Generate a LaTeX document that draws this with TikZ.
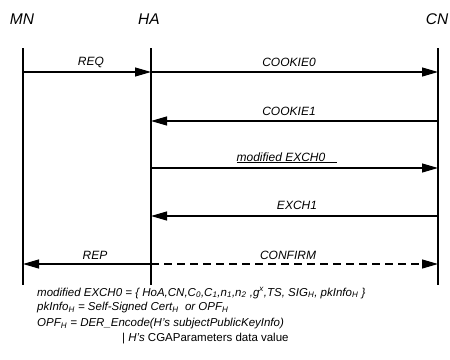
\documentclass[tikz,border=0pt]{standalone}
\usepackage{fontspec}
\setmainfont{Liberation Sans}
\usetikzlibrary{arrows.meta}
\begin{document}
\begin{tikzpicture}[x=1pt,y=-1pt,
  hdr/.style={font=\fontsize{15.5}{17}\selectfont\itshape, inner sep=0pt},
  lbl/.style={font=\fontsize{12}{14}\selectfont\itshape, inner sep=0pt},
  life/.style={line width=1.6pt},
  msg/.style={line width=1.1pt, -{Triangle[length=16pt,width=9pt]}},
  note/.style={font=\fontsize{11.5}{14}\selectfont\itshape, inner sep=0pt, anchor=west}]
\useasboundingbox (0,0) rectangle (450,359);
% headers
\node[hdr] (mn) at (22,19) {MN};
\node[hdr] (ha) at (149,19) {HA};
\node[hdr] (cn) at (437,19) {CN};
% lifelines
\coordinate (mnT) at (23,48); \coordinate (mnB) at (23,285);
\coordinate (haT) at (151,48); \coordinate (haB) at (151,285);
\coordinate (cnT) at (438,48); \coordinate (cnB) at (438,285);
\draw[life] (mnT) -- (mnB);
\draw[life] (haT) -- (haB);
\draw[life] (cnT) -- (cnB);
% message anchor points
\foreach \n/\y in {1/72,2/121,3/168,4/216,5/264}{
  \coordinate (mn\n) at (23,\y);
  \coordinate (ha\n) at (151,\y);
  \coordinate (cn\n) at (438,\y);
}
% messages
\draw[msg] (mn1) -- (ha1);
\draw[msg] (ha1) -- (cn1);
\draw[msg] (cn2) -- (ha2);
\draw[msg] (ha3) -- (cn3);
\draw[msg] (cn4) -- (ha4);
\draw[msg] (ha5) -- (mn5);
\draw[msg, dashed, dash pattern=on 8pt off 5pt] (ha5) -- (cn5);
% labels
\node[lbl] (req) at (91,62) {REQ};
\node[lbl] (c0) at (289,62) {COOKIE0};
\node[lbl] (c1) at (289,111) {COOKIE1};
\node[lbl] (ex0) at (281,157) {modified EXCH0};
\coordinate (ul1) at (237,162); \coordinate (ul2) at (337,162);
\draw[line width=0.8pt] (ul1) -- (ul2);
\node[lbl] (ex1) at (297,205) {EXCH1};
\node[lbl] (rep) at (95,255) {REP};
\node[lbl] (conf) at (288,255) {CONFIRM};
% notes
\node[note] (n1) at (37,293) {modified EXCH0 = \{ HoA,CN,C\textsubscript{0},C\textsubscript{1},n\textsubscript{1},n\textsubscript{2} ,g\textsuperscript{x},TS, SIG\textsubscript{H}, pkInfo\textsubscript{H} \}};
\node[note] (n2) at (37,308) {pkInfo\textsubscript{H} = Self-Signed Cert\textsubscript{H}\ \ or OPF\textsubscript{H}};
\node[note] (n3) at (37,324) {OPF\textsubscript{H} = DER\_Encode(H's subjectPublicKeyInfo)};
\node[note] (n4) at (122,339) {\upshape| \itshape H's \upshape CGAParameters data value};
\end{tikzpicture}
\end{document}
